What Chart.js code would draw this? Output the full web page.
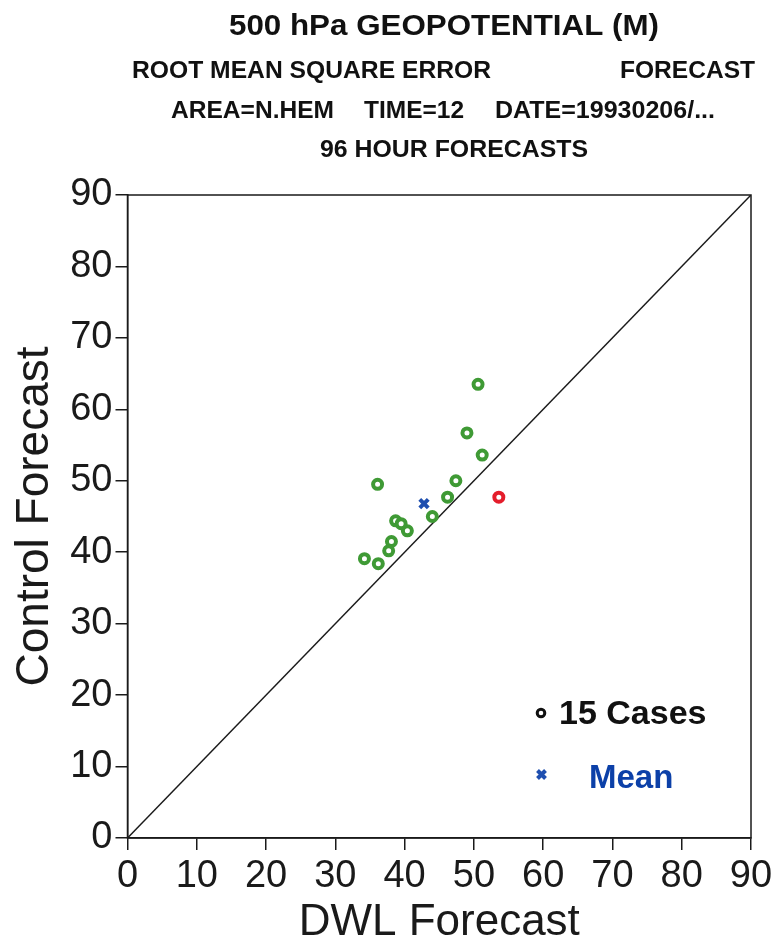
<!DOCTYPE html>
<html>
<head>
<meta charset="utf-8">
<script src="https://cdn.jsdelivr.net/npm/chart.js@4"></script>
<style>
	body { margin: 0; background: #fff; }
</style>
</head>
<body>
<canvas id="mycanvas" width="774" height="945"></canvas>
<script>
// RMS errors of the 15 cases, 96 hour forecasts
var dwl     = [50.6, 49.0, 51.2, 36.1, 47.4, 46.2, 44.0, 38.7, 39.5, 40.4, 38.1, 37.7, 34.2, 36.2];
var control = [63.5, 56.7, 53.6, 49.5, 50.0, 47.7, 45.0, 44.4, 44.0, 43.0, 41.5, 40.2, 39.1, 38.4];
// the one case shown in red
var oddDwl = [53.6];
var oddControl = [47.7];
// mean of all cases
var meanDwl = [42.8];
var meanControl = [46.8];
// diagonal
var diagonal = [0, 90];
var tickValues = [0, 10, 20, 30, 40, 50, 60, 70, 80, 90];

function pairs(xs, ys) {
	var out = [];
	for (var i in xs) out.push({x: xs[i], y: ys[i]});
	return out;
}

var titleLines = [
	{text: '500 hPa GEOPOTENTIAL (M)', x0: 229, x1: 659, y: 35, size: 29},
	{text: 'ROOT MEAN SQUARE ERROR', x0: 132, x1: 491, y: 78, size: 23},
	{text: 'FORECAST', x0: 620, x1: 755, y: 78, size: 23},
	{text: 'AREA=N.HEM', x0: 171, x1: 334, y: 118, size: 23},
	{text: 'TIME=12', x0: 364, x1: 464, y: 118, size: 23},
	{text: 'DATE=19930206/...', x0: 495, x1: 715, y: 118, size: 23},
	{text: '96 HOUR FORECASTS', x0: 320, x1: 588, y: 157, size: 24}
];

var FONT = '"Liberation Sans", Arial, Helvetica, sans-serif';

var decor = {
	id: 'decor',
	afterDraw: function(chart) {
		var ctx = chart.ctx;
		var a = chart.chartArea;
		ctx.save();
		// frame (top and right sides)
		ctx.strokeStyle = '#1a1a1a';
		ctx.lineWidth = 1.5;
		ctx.strokeRect(a.left, a.top, a.right - a.left, a.bottom - a.top);

		// title lines, squeezed to the widths of the original
		ctx.fillStyle = '#111';
		ctx.textBaseline = 'alphabetic';
		ctx.textAlign = 'left';
		titleLines.forEach(function(t) {
			ctx.font = 'bold ' + t.size + 'px ' + FONT;
			var w = ctx.measureText(t.text).width;
			ctx.save();
			ctx.translate(t.x0, t.y);
			ctx.scale((t.x1 - t.x0) / w, 1);
			ctx.fillText(t.text, 0, 0);
			ctx.restore();
		});

		// legend
		ctx.strokeStyle = '#111';
		ctx.lineWidth = 3;
		ctx.fillStyle = '#fff';
		ctx.beginPath();
		ctx.arc(541, 713, 3.8, 0, Math.PI * 2);
		ctx.fill();
		ctx.stroke();
		ctx.fillStyle = '#111';
		ctx.font = 'bold 34px ' + FONT;
		ctx.fillText('15 Cases', 559, 724);

		ctx.strokeStyle = '#1f4fb0';
		ctx.lineWidth = 4;
		ctx.beginPath();
		ctx.moveTo(537.5, 770.5); ctx.lineTo(545.5, 778.5);
		ctx.moveTo(545.5, 770.5); ctx.lineTo(537.5, 778.5);
		ctx.stroke();
		ctx.fillStyle = '#0c40a8';
		ctx.font = 'bold 33px ' + FONT;
		ctx.fillText('Mean', 589, 788);
		ctx.restore();
	}
};

var chartdata = {
	datasets: [
		{
			type: 'line',
			label: 'diagonal',
			data: pairs(diagonal, diagonal),
			borderColor: '#1a1a1a',
			borderWidth: 1.5,
			pointRadius: 0,
			order: 3
		},
		{
			label: 'Cases',
			data: pairs(dwl, control),
			pointStyle: 'circle',
			pointRadius: 4.5,
			borderWidth: 4,
			borderColor: '#3f9a35',
			backgroundColor: '#ffffff',
			order: 2
		},
		{
			label: 'Odd case',
			data: pairs(oddDwl, oddControl),
			pointStyle: 'circle',
			pointRadius: 4.5,
			borderWidth: 4,
			borderColor: '#e41d2b',
			backgroundColor: '#ffffff',
			order: 1
		},
		{
			label: 'Mean',
			data: pairs(meanDwl, meanControl),
			pointStyle: 'crossRot',
			pointRadius: 6,
			borderWidth: 4,
			borderColor: '#1f4fb0',
			order: 0
		}
	]
};

var tickFont = {family: FONT, size: 38};

var ctx = document.getElementById('mycanvas');
var scatter = new Chart(ctx, {
	type: 'scatter',
	data: chartdata,
	plugins: [decor],
	options: {
		responsive: false,
		animation: false,
		layout: {padding: {top: 195, right: 23, left: 0, bottom: 0}},
		plugins: {legend: {display: false}, tooltip: {enabled: false}},
		scales: {
			x: {
				type: 'linear',
				min: 0, max: 90,
				afterBuildTicks: function(scale) { scale.ticks = tickValues.map(function(v) { return {value: v}; }); },
				afterFit: function(scale) {
					scale.height = 107;
					scale.paddingLeft = 0;
					scale.paddingRight = 0;
				},
				border: {color: '#1a1a1a', width: 1.5},
				grid: {drawOnChartArea: false, drawTicks: true, tickLength: 12, color: '#1a1a1a', lineWidth: 1.5},
				ticks: {font: tickFont, color: '#1a1a1a', padding: 4, maxRotation: 0, autoSkip: false},
				title: {display: true, text: 'DWL Forecast', color: '#1a1a1a',
					font: {family: FONT, size: 44, lineHeight: 1}, padding: {top: 0, bottom: 0}}
			},
			y: {
				type: 'linear',
				min: 0, max: 90,
				afterBuildTicks: function(scale) { scale.ticks = tickValues.map(function(v) { return {value: v}; }); },
				afterFit: function(scale) {
					scale.width = 127.5;
					scale.paddingTop = 0;
					scale.paddingBottom = 0;
				},
				border: {color: '#1a1a1a', width: 1.5},
				grid: {drawOnChartArea: false, drawTicks: true, tickLength: 12, color: '#1a1a1a', lineWidth: 1.5},
				ticks: {font: tickFont, color: '#1a1a1a', padding: 3, autoSkip: false},
				title: {display: true, text: 'Control Forecast', color: '#1a1a1a',
					font: {family: FONT, size: 46, lineHeight: 1}, padding: {top: 12, bottom: 0}}
			}
		}
	}
});
</script>
</body>
</html>
